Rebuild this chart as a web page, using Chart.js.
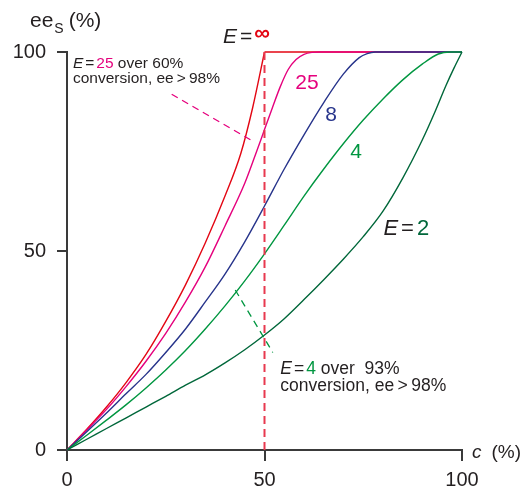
<!DOCTYPE html>
<html>
<head>
<meta charset="utf-8">
<script src="https://cdn.jsdelivr.net/npm/chart.js@4.4.0/dist/chart.umd.min.js"></script>
<style>
  html, body { margin: 0; padding: 0; background: #fff; }
  #wrap { width: 526px; height: 488px; }
</style>
</head>
<body>
<div id="wrap"><canvas id="chart" width="526" height="488"></canvas></div>
<script>
// Conversion c (%) and ee of the remaining substrate (%) for each E value.
const convInf = [0, 5, 10, 15, 20, 25, 30, 35, 40, 44, 47, 50];
const eeInf   = [0, 5.2, 10.8, 17, 24, 32.3, 41.5, 52, 63.8, 74.5, 86, 100];

const convPlateau = [50, 100];
const eePlateau   = [100, 100];

const conv25 = [0, 5, 10, 15, 20, 25, 30, 35, 40, 45, 48, 50, 52, 54, 56, 58, 60, 62, 64, 100];
const ee25   = [0, 5, 10.2, 16, 22.3, 29.3, 37.2, 46, 56.3, 67, 75, 80.5, 86, 91.3, 95.6, 98.1, 99.4, 99.9, 100, 100];

const conv8 = [0, 5, 10, 15, 20, 25, 30, 35, 40, 45, 50, 55, 60, 65, 70, 74, 76, 78, 100];
const ee8   = [0, 4.6, 9.3, 14.2, 19, 24.5, 30.4, 37.2, 44.2, 52.3, 61.3, 70.6, 79.2, 87.3, 94.5, 98.6, 99.6, 100, 100];

const conv4 = [0, 5, 10, 15, 20, 25, 30, 35, 40, 45, 50, 55, 60, 65, 70, 75, 80, 85, 90, 94, 97, 100];
const ee4   = [0, 3.7, 7.5, 11.4, 15.6, 20.1, 25, 30.4, 36.2, 42.5, 49.3, 56.5, 63.8, 70.6, 77, 82.9, 88.2, 93, 97, 99.5, 100, 100];

const conv2 = [0, 5, 10, 15, 20, 25, 30, 35, 40, 45, 50, 55, 60, 65, 70, 75, 80, 85, 90, 93, 96, 98, 100];
const ee2   = [0, 2.7, 5.4, 8.1, 10.8, 13.5, 16.3, 18.9, 21.9, 25.2, 28.9, 33, 37.8, 42.8, 48, 53.6, 60, 68.3, 78, 84.6, 91.7, 96, 100];

// 50 % conversion marker and the two leader lines of the notes
const convHalf = [50, 50];
const eeHalf   = [0, 100];
const convLead25 = [26.5, 47.2];
const eeLead25   = [89.4, 77.5];
const convLead4 = [42.6, 52.1];
const eeLead4   = [40.2, 24.5];

const axisTicks = [0, 50, 100];

const RED = '#e30613', PINK = '#e5007d', NAVY = '#27348b', GREEN = '#009640', DKGREEN = '#00673a';
const INK = '#231f20';
const FONT = "'Liberation Sans', Arial, Helvetica, sans-serif";

const pts = (xs, ys) => xs.map((x, i) => ({ x, y: ys[i] }));

function curve(xs, ys, color, extra) {
  return Object.assign({
    data: pts(xs, ys), borderColor: color, borderWidth: 1.4,
    pointRadius: 0, fill: false, cubicInterpolationMode: 'monotone', clip: false
  }, extra || {});
}

function straight(xs, ys, color, width, dash) {
  return curve(xs, ys, color, {
    borderWidth: width, borderDash: dash || [], tension: 0, cubicInterpolationMode: 'default'
  });
}

// Draws a run of differently styled text pieces starting at (x, y) on the baseline.
function drawRich(ctx, x, y, parts) {
  ctx.textBaseline = 'alphabetic';
  ctx.textAlign = 'left';
  for (const p of parts) {
    ctx.font = p.font;
    ctx.fillStyle = p.color;
    ctx.fillText(p.t, x, y + (p.dy || 0));
    x += ctx.measureText(p.t).width + (p.gap || 0);
  }
}

const labelsPlugin = {
  id: 'curveLabels',
  afterDraw(chart) {
    const { ctx, scales: { x: xs, y: ys } } = chart;
    const X = v => xs.getPixelForValue(v);
    const Y = v => ys.getPixelForValue(v);
    const f = (s, style) => (style ? style + ' ' : '') + s + 'px ' + FONT;
    ctx.save();

    // axis titles
    drawRich(ctx, 30, 27, [
      { t: 'ee', font: f(21), color: INK, gap: 1 },
      { t: 'S', font: f(14), color: INK, dy: 6, gap: 5 },
      { t: '(%)', font: f(21), color: INK }
    ]);
    drawRich(ctx, X(100) + 10, Y(0) + 8, [
      { t: 'c', font: f(19, 'italic'), color: INK, gap: 10 },
      { t: '(%)', font: f(19), color: INK }
    ]);

    // curve labels
    drawRich(ctx, X(39.5), Y(102.3), [
      { t: 'E', font: f(21, 'italic'), color: INK, gap: 3 },
      { t: '=', font: f(21), color: INK, gap: 2 },
      { t: '\u221E', font: f(22, 'bold'), color: RED, dy: -3 }
    ]);
    drawRich(ctx, X(57.8), Y(90.8), [{ t: '25', font: f(21), color: PINK }]);
    drawRich(ctx, X(65.4), Y(82.7), [{ t: '8', font: f(21), color: NAVY }]);
    drawRich(ctx, X(71.7), Y(73.4), [{ t: '4', font: f(21), color: GREEN }]);
    drawRich(ctx, X(80.1), Y(54.1), [
      { t: 'E', font: f(22, 'italic'), color: INK, gap: 3 },
      { t: '=', font: f(22), color: INK, gap: 3 },
      { t: '2', font: f(22), color: DKGREEN }
    ]);

    // notes
    drawRich(ctx, X(1.5), Y(96.1), [
      { t: 'E', font: f(15.5, 'italic'), color: INK, gap: 2 },
      { t: '=', font: f(15.5), color: INK, gap: 2 },
      { t: '25', font: f(15.5), color: PINK },
      { t: ' over 60%', font: f(15.5), color: INK }
    ]);
    drawRich(ctx, X(1.5), Y(92.3), [{ t: 'conversion, ee\u2009>\u200998%', font: f(15.5), color: INK }]);

    drawRich(ctx, X(54), Y(19.0), [
      { t: 'E', font: f(17.5, 'italic'), color: INK, gap: 2 },
      { t: '=', font: f(17.5), color: INK, gap: 2 },
      { t: '4', font: f(17.5), color: GREEN },
      { t: ' over  93%', font: f(17.5), color: INK }
    ]);
    drawRich(ctx, X(54), Y(14.8), [{ t: 'conversion, ee\u2009>\u200998%', font: f(17.5), color: INK }]);

    ctx.restore();
  }
};

const tickFont = { family: FONT, size: 20 };

new Chart(document.getElementById('chart'), {
  type: 'line',
  data: {
    datasets: [
      straight(convHalf, eeHalf, '#e8394f', 2, [8, 5]),
      straight(convLead25, eeLead25, PINK, 1.3, [7, 5]),
      straight(convLead4, eeLead4, GREEN, 1.3, [7, 5]),
      curve(conv2, ee2, DKGREEN),
      curve(conv4, ee4, GREEN),
      curve(conv8, ee8, NAVY),
      curve(conv25, ee25, PINK),
      curve(convInf, eeInf, RED),
      straight(convPlateau, eePlateau, RED, 1.6)
    ]
  },
  options: {
    responsive: false,
    animation: false,
    events: [],
    layout: { padding: { left: 0, right: 64, top: 52, bottom: 0 } },
    plugins: { legend: { display: false }, tooltip: { enabled: false } },
    scales: {
      x: {
        type: 'linear', min: 0, max: 100,
        afterBuildTicks(s) { s.ticks = axisTicks.map(v => ({ value: v })); },
        afterFit(s) { s.height = 38; },
        ticks: { padding: 7, color: INK, font: tickFont, maxRotation: 0, autoSkip: false },
        grid: { drawOnChartArea: false, drawTicks: true, tickLength: 11, color: '#3a3a3a', lineWidth: 2 },
        border: { color: '#3a3a3a', width: 2 }
      },
      y: {
        type: 'linear', min: 0, max: 100,
        afterBuildTicks(s) { s.ticks = axisTicks.map(v => ({ value: v })); },
        afterFit(s) { s.width = 67; },
        ticks: { padding: 11, color: INK, font: tickFont, autoSkip: false },
        grid: { drawOnChartArea: false, drawTicks: true, tickLength: 10, color: '#3a3a3a', lineWidth: 2 },
        border: { color: '#3a3a3a', width: 2 }
      }
    }
  },
  plugins: [labelsPlugin]
});
</script>
</body>
</html>
